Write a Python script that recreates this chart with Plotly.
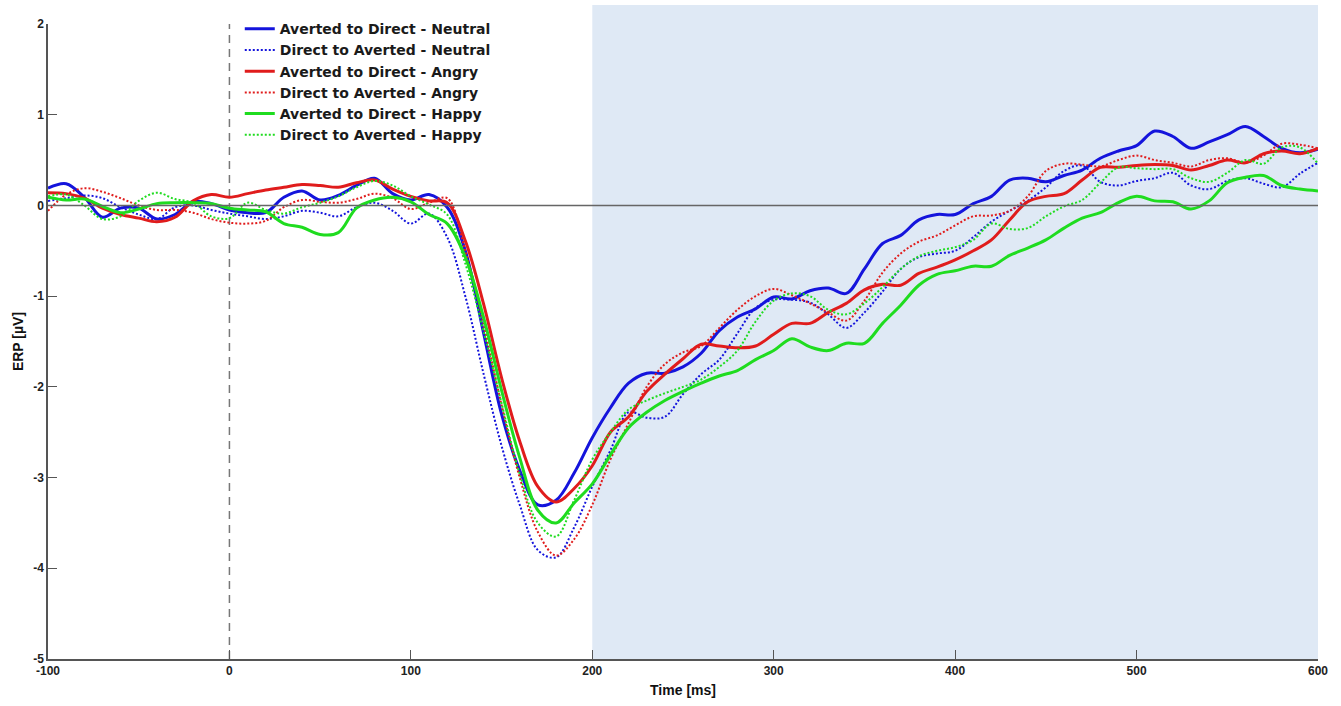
import plotly.graph_objects as go

# Time axis in ms (10 ms steps)
time_ms = list(range(-100, 601, 10))

# Grand-average ERP amplitudes (µV)
averted_to_direct_neutral = [
    0.19, 0.24, 0.09, -0.13, -0.03, -0.03, -0.15, -0.10, 0.04, 0.02,
    -0.05, -0.08, -0.08, 0.09, 0.16, 0.06, 0.11, 0.22, 0.30, 0.13,
    0.06, 0.12, -0.02, -0.50, -1.40, -2.30, -2.92, -3.30, -3.25, -2.95,
    -2.56, -2.23, -1.96, -1.85, -1.85, -1.78, -1.63, -1.38, -1.23, -1.14,
    -1.01, -1.03, -0.94, -0.91, -0.97, -0.70, -0.42, -0.33, -0.16, -0.10,
    -0.10, 0.02, 0.10, 0.28, 0.30, 0.26, 0.33, 0.39, 0.52, 0.60,
    0.66, 0.82, 0.76, 0.63, 0.70, 0.78, 0.87, 0.76, 0.63, 0.58,
    0.62,
]
direct_to_averted_neutral = [
    0.05, 0.08, 0.11, 0.08, -0.02, -0.10, -0.15, -0.02, 0.00, -0.05,
    -0.09, -0.12, -0.15, -0.12, -0.06, -0.08, -0.12, -0.02, 0.03, -0.06,
    -0.20, -0.09, -0.35, -1.00, -1.85, -2.65, -3.30, -3.80, -3.88, -3.55,
    -3.10, -2.70, -2.28, -2.34, -2.33, -2.08, -1.86, -1.70, -1.41, -1.13,
    -1.04, -1.04, -1.07, -1.20, -1.35, -1.18, -0.95, -0.70, -0.57, -0.53,
    -0.50, -0.35, -0.18, -0.06, 0.05, 0.20, 0.38, 0.44, 0.26, 0.22,
    0.27, 0.30, 0.36, 0.22, 0.18, 0.27, 0.30, 0.24, 0.20, 0.35,
    0.47,
]
averted_to_direct_angry = [
    0.14, 0.13, 0.08, -0.03, -0.10, -0.14, -0.18, -0.13, 0.05, 0.12,
    0.09, 0.13, 0.17, 0.20, 0.23, 0.22, 0.20, 0.25, 0.28, 0.18,
    0.10, 0.05, 0.03, -0.39, -1.08, -1.90, -2.60, -3.10, -3.27, -3.12,
    -2.87, -2.50, -2.33, -2.05, -1.86, -1.69, -1.53, -1.55, -1.57, -1.55,
    -1.42, -1.30, -1.30, -1.18, -1.08, -0.93, -0.87, -0.88, -0.75, -0.68,
    -0.60, -0.50, -0.38, -0.16, 0.04, 0.10, 0.13, 0.28, 0.42, 0.42,
    0.44, 0.45, 0.44, 0.39, 0.44, 0.50, 0.47, 0.57, 0.60, 0.57,
    0.63,
]
direct_to_averted_angry = [
    -0.06, 0.12, 0.19, 0.15, 0.08, 0.00, -0.05, -0.05, -0.08, -0.15,
    -0.19, -0.20, -0.17, -0.02, 0.06, 0.04, 0.03, 0.07, 0.13, 0.08,
    -0.04, 0.03, 0.08, -0.50, -1.30, -2.20, -3.00, -3.60, -3.86, -3.68,
    -3.30, -2.80, -2.40, -2.00, -1.75, -1.62, -1.55, -1.35, -1.15, -1.00,
    -0.92, -0.99, -1.08, -1.18, -1.27, -1.05, -0.74, -0.53, -0.40, -0.33,
    -0.22, -0.12, -0.11, -0.06, 0.10, 0.38, 0.46, 0.45, 0.43, 0.50,
    0.55, 0.50, 0.47, 0.43, 0.50, 0.52, 0.47, 0.55, 0.68, 0.67,
    0.63,
]
averted_to_direct_happy = [
    0.09, 0.06, 0.07, -0.01, -0.08, -0.04, 0.02, 0.03, 0.03, 0.02,
    -0.03, -0.05, -0.07, -0.20, -0.24, -0.32, -0.30, -0.03, 0.06, 0.09,
    0.04, -0.10, -0.20, -0.57, -1.23, -2.04, -2.78, -3.36, -3.50, -3.28,
    -3.07, -2.75, -2.45, -2.28, -2.15, -2.05, -1.96, -1.88, -1.82, -1.70,
    -1.60, -1.47, -1.56, -1.60, -1.52, -1.52, -1.30, -1.10, -0.88, -0.76,
    -0.72, -0.67, -0.67, -0.55, -0.47, -0.38, -0.25, -0.14, -0.08, 0.03,
    0.10, 0.05, 0.04, -0.04, 0.05, 0.25, 0.31, 0.33, 0.22, 0.18,
    0.16,
]
direct_to_averted_happy = [
    0.10, 0.12, 0.00, -0.15, -0.12, 0.05, 0.14, 0.07, 0.03, -0.12,
    -0.14, 0.03, -0.05, -0.09, -0.02, 0.03, 0.10, 0.20, 0.27, 0.22,
    0.10, 0.01, -0.10, -0.64, -1.38, -2.18, -2.96, -3.50, -3.65, -3.25,
    -2.80, -2.50, -2.25, -2.15, -2.07, -2.00, -1.92, -1.78, -1.60, -1.28,
    -1.05, -0.97, -1.00, -1.15, -1.20, -1.08, -0.90, -0.70, -0.56, -0.50,
    -0.46, -0.38, -0.20, -0.26, -0.25, -0.12, -0.01, 0.06, 0.25, 0.42,
    0.41, 0.40, 0.40, 0.30, 0.26, 0.36, 0.50, 0.46, 0.64, 0.64,
    0.46,
]

x_ticks = [-100, 0, 100, 200, 300, 400, 500, 600]
x_tick_labels = ["-100", "0", "100", "200", "300", "400", "500", "600"]
y_ticks = [-5, -4, -3, -2, -1, 0, 1, 2]
y_tick_labels = ["-5", "-4", "-3", "-2", "-1", "0", "1", "2"]

BLUE = "#1414dc"
RED = "#e01c1c"
GREEN = "#1fdc1f"

series = [
    ("Averted to Direct - Neutral", averted_to_direct_neutral, BLUE, "solid"),
    ("Direct to Averted - Neutral", direct_to_averted_neutral, BLUE, "dot"),
    ("Averted to Direct - Angry", averted_to_direct_angry, RED, "solid"),
    ("Direct to Averted - Angry", direct_to_averted_angry, RED, "dot"),
    ("Averted to Direct - Happy", averted_to_direct_happy, GREEN, "solid"),
    ("Direct to Averted - Happy", direct_to_averted_happy, GREEN, "dot"),
]

fig = go.Figure()
for name, values, color, style in series:
    solid = style == "solid"
    fig.add_trace(go.Scatter(
        x=time_ms, y=values, name=name, mode="lines",
        line=dict(color=color, width=3 if solid else 2,
                  dash="solid" if solid else "2px,2px",
                  shape="spline", smoothing=1.0),
    ))

# Analysis window shading (200-600 ms)
fig.add_shape(type="rect", xref="x", yref="paper", x0=200, x1=600,
              y0=0, y1=1.03, fillcolor="#dfe9f5", line_width=0, layer="below")
# Zero baseline
fig.add_shape(type="line", xref="x", yref="y", x0=-100, x1=600, y0=0, y1=0,
              line=dict(color="#666666", width=1.5), layer="above")
# Stimulus onset marker
fig.add_shape(type="line", xref="x", yref="y", x0=0, x1=0, y0=-5, y1=2,
              line=dict(color="#777777", width=1.5, dash="8px,6px"), layer="below")

tick_font = dict(family="Liberation Sans, Arial, sans-serif", size=12,
                 color="#222222", weight="bold")
title_font = dict(family="Liberation Sans, Arial, sans-serif", size=14,
                  color="#111111", weight="bold")

fig.update_layout(
    width=1341, height=706,
    margin=dict(l=48, r=23, t=24, b=47),
    paper_bgcolor="white", plot_bgcolor="rgba(0,0,0,0)",
    showlegend=True,
    legend=dict(x=0.151, y=1.017, xanchor="left", yanchor="top",
                bgcolor="rgba(0,0,0,0)", borderwidth=0,
                font=dict(family="DejaVu Sans, sans-serif", size=14,
                          color="#1a1a1a", weight="bold"),
                itemwidth=30, tracegroupgap=0),
    xaxis=dict(range=[-100, 600], tickvals=x_ticks, ticktext=x_tick_labels,
               ticks="inside", ticklen=9, automargin=False,
               tickcolor="#555555", showline=True, linecolor="#555555",
               linewidth=2, showgrid=False, zeroline=False, mirror=False,
               tickfont=tick_font,
               title=dict(text="Time [ms]", font=title_font, standoff=8)),
    yaxis=dict(range=[-5, 2], tickvals=y_ticks, ticktext=y_tick_labels,
               ticks="inside", ticklen=9, automargin=False,
               tickcolor="#555555", showline=True, linecolor="#555555",
               linewidth=1.5, showgrid=False, zeroline=False, mirror=False,
               tickfont=tick_font,
               title=dict(text="ERP [µV]", font=title_font, standoff=6)),
)

fig.write_html("out.html")
